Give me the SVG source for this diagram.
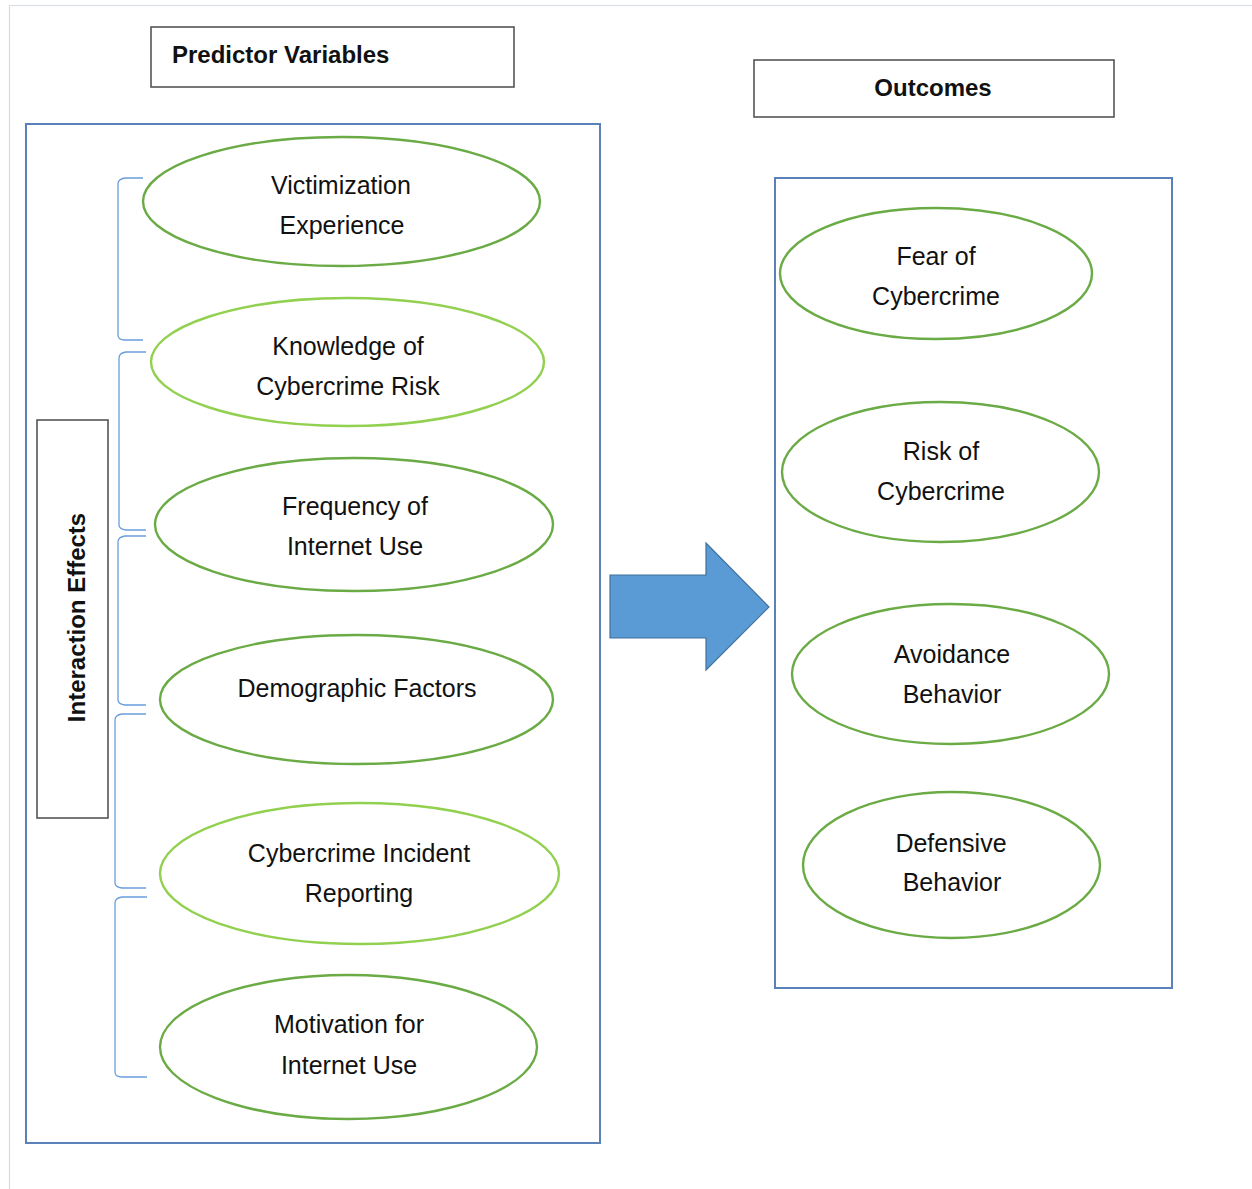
<svg xmlns="http://www.w3.org/2000/svg" width="1252" height="1189" viewBox="0 0 1252 1189">
  <defs>
    <style>
      .label { font-family: "Liberation Sans", Arial, sans-serif; font-size: 25px; fill: #111; text-anchor: middle; }
      .title { font-family: "Liberation Sans", Arial, sans-serif; font-size: 24px; font-weight: bold; fill: #111; }
      .frame { fill: none; stroke: #5a82b8; stroke-width: 2; }
      .tbox { fill: #fff; stroke: #555; stroke-width: 1.6; }
      .oval-dark { fill: #fff; stroke: #6aab45; stroke-width: 2.4; }
      .oval-light { fill: #fff; stroke: #92d050; stroke-width: 2.4; }
      .brace { fill: none; stroke: #6a9fdc; stroke-width: 1.3; }
    </style>
  </defs>

  <rect width="1252" height="1189" fill="#fff"/>
  <!-- page edge -->
  <path d="M9.5,1189 L9.5,5.5 L1252,5.5" fill="none" stroke="#d6dde6" stroke-width="1.2"/>

  <!-- headings -->
  <g id="predictor-title">
    <rect class="tbox" x="151" y="27" width="363" height="60"/>
    <text class="title" x="172" y="63">Predictor Variables</text>
  </g>
  <g id="outcomes-title">
    <rect class="tbox" x="754" y="60" width="360" height="57"/>
    <text class="title" x="933" y="96" text-anchor="middle" font-size="24.5">Outcomes</text>
  </g>

  <!-- containers -->
  <g id="predictor-frame"><rect class="frame" x="26" y="124" width="574" height="1019"/></g>
  <g id="outcome-frame"><rect class="frame" x="775" y="178" width="397" height="810"/></g>

  <g id="interaction-effects">
    <rect class="tbox" x="37" y="420" width="71" height="398"/>
    <text class="title" font-size="24.5" text-anchor="middle" transform="translate(85,617.5) rotate(-90)">Interaction Effects</text>
  </g>

  <!-- predictor ovals -->
  <g id="victimization">
    <ellipse class="oval-dark" cx="341.5" cy="201.5" rx="198.5" ry="64.5"/>
    <text class="label" x="341" y="194">Victimization</text>
    <text class="label" x="342" y="234">Experience</text>
  </g>
  <g id="knowledge">
    <ellipse class="oval-light" cx="347.5" cy="362" rx="196.5" ry="64"/>
    <text class="label" x="348" y="355">Knowledge of</text>
    <text class="label" x="348" y="395">Cybercrime Risk</text>
  </g>
  <g id="frequency">
    <ellipse class="oval-dark" cx="354" cy="524.5" rx="199" ry="66.5"/>
    <text class="label" x="355" y="515">Frequency of</text>
    <text class="label" x="355" y="555">Internet Use</text>
  </g>
  <g id="demographic">
    <ellipse class="oval-dark" cx="356.5" cy="699.5" rx="196.5" ry="64.5"/>
    <text class="label" x="357" y="697">Demographic Factors</text>
  </g>
  <g id="incident-reporting">
    <ellipse class="oval-light" cx="359.5" cy="873.5" rx="199.5" ry="70.5"/>
    <text class="label" x="359" y="862">Cybercrime Incident</text>
    <text class="label" x="359" y="902">Reporting</text>
  </g>
  <g id="motivation">
    <ellipse class="oval-dark" cx="348.5" cy="1047" rx="188.5" ry="72"/>
    <text class="label" x="349" y="1033">Motivation for</text>
    <text class="label" x="349" y="1074">Internet Use</text>
  </g>

  <!-- outcome ovals -->
  <g id="fear">
    <ellipse class="oval-dark" cx="936" cy="273.5" rx="156" ry="65.5"/>
    <text class="label" x="936" y="265">Fear of</text>
    <text class="label" x="936" y="305">Cybercrime</text>
  </g>
  <g id="risk">
    <ellipse class="oval-dark" cx="940.5" cy="472" rx="158.5" ry="70"/>
    <text class="label" x="941" y="460">Risk of</text>
    <text class="label" x="941" y="500">Cybercrime</text>
  </g>
  <g id="avoidance">
    <ellipse class="oval-dark" cx="950.5" cy="674" rx="158.5" ry="70"/>
    <text class="label" x="952" y="663">Avoidance</text>
    <text class="label" x="952" y="703">Behavior</text>
  </g>
  <g id="defensive">
    <ellipse class="oval-dark" cx="951.5" cy="865" rx="148.5" ry="73"/>
    <text class="label" x="951" y="852">Defensive</text>
    <text class="label" x="952" y="891">Behavior</text>
  </g>

  <!-- connectors: interaction brackets and the main arrow -->
  <g id="connectors">
    <path class="brace" d="M143,178 L125,178 Q118,179 118,184 L118,335 Q118,340 125,340 L143,340"/>
    <path class="brace" d="M146,352 L126,352 Q119,353 119,358 L119,525 Q119,529 126,530 L146,530"/>
    <path class="brace" d="M146,536 L125,536 Q118,537 118,542 L118,700 Q118,704 125,705 L146,705"/>
    <path class="brace" d="M146,714 L122,714 Q115,715 115,720 L115,883 Q115,887 122,888 L146,888"/>
    <path class="brace" d="M147,897 L122,897 Q115,898 115,903 L115,1072 Q115,1077 122,1077 L147,1077"/>
    <polygon points="610,575 706,575 706,543 769,607 706,670 706,638 610,638" fill="#5b9bd5" stroke="#41719c" stroke-width="1.2"/>
  </g>
</svg>
